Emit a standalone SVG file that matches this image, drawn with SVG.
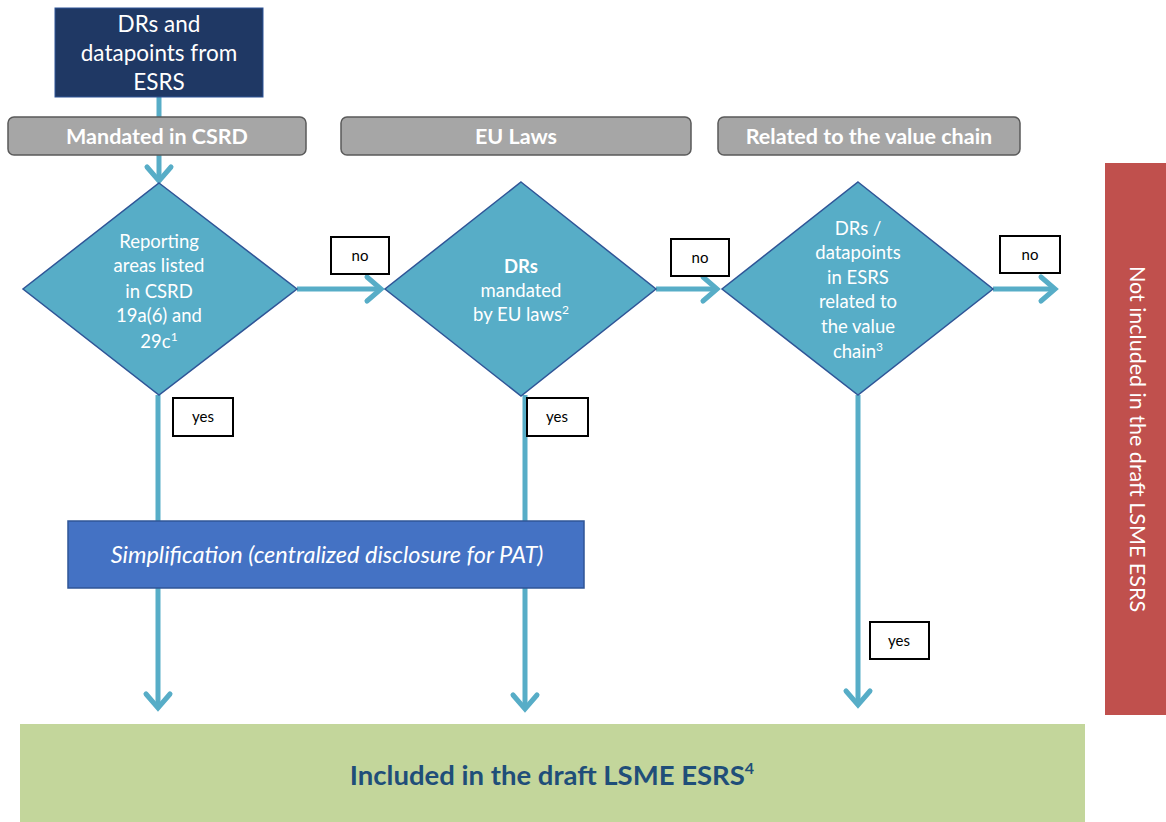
<svg xmlns="http://www.w3.org/2000/svg" width="1166" height="822" viewBox="0 0 1166 822">
<defs>
<style>
.t{font-family:Lato,"Liberation Sans",sans-serif;fill:#fff;text-anchor:middle}
.hdr{fill:#a6a6a6;stroke:#5a5a5a;stroke-width:1.5}
.hdrt{font-family:Lato,"Liberation Sans",sans-serif;font-weight:bold;font-size:21.5px;fill:#fff;text-anchor:middle}
.dia{fill:#57adc7;stroke:#2f5597;stroke-width:1.5}
.dt{font-family:Lato,"Liberation Sans",sans-serif;font-size:18.5px;fill:#fff;text-anchor:middle}
.lbl{fill:#fff;stroke:#000;stroke-width:2}
.lt{font-family:Lato,"Liberation Sans",sans-serif;font-size:15px;fill:#000;text-anchor:middle}
.c{stroke:#57adc7;stroke-width:5;fill:none}
</style>
<marker id="ah" markerUnits="userSpaceOnUse" markerWidth="40" markerHeight="40" viewBox="-20 -20 40 40" refX="0" refY="0" orient="auto">
<path d="M-14,-12 L0,0 L-14,12" fill="none" stroke="#57adc7" stroke-width="5" stroke-linecap="round" stroke-linejoin="miter"/>
</marker>
</defs>
<rect width="1166" height="822" fill="#fff"/>

<g id="connectors">
<line class="c" x1="159" y1="97" x2="159" y2="181" marker-end="url(#ah)"/>
<line class="c" x1="297" y1="289" x2="381" y2="289" marker-end="url(#ah)"/>
<line class="c" x1="656" y1="289" x2="717" y2="289" marker-end="url(#ah)"/>
<line class="c" x1="993" y1="289" x2="1055" y2="289" marker-end="url(#ah)"/>
<line class="c" x1="158" y1="395" x2="158" y2="708" marker-end="url(#ah)"/>
<line class="c" x1="525" y1="395" x2="525" y2="709" marker-end="url(#ah)"/>
<line class="c" x1="858" y1="395" x2="858" y2="705" marker-end="url(#ah)"/>
</g>

<g id="source">
<rect x="55" y="8" width="208" height="89" fill="#1f3864" stroke="#2f5597" stroke-width="1"/>
<text class="t" font-size="22.5" x="159" y="32">DRs and</text>
<text class="t" font-size="22.5" x="159" y="61">datapoints from</text>
<text class="t" font-size="22.5" x="159" y="90">ESRS</text>
</g>

<g id="hdr1">
<rect class="hdr" x="8" y="117" width="298" height="38" rx="6"/>
<text class="hdrt" x="157" y="144">Mandated in CSRD</text>
</g>
<g id="hdr2">
<rect class="hdr" x="341" y="117" width="350" height="38" rx="6"/>
<text class="hdrt" x="516" y="144">EU Laws</text>
</g>
<g id="hdr3">
<rect class="hdr" x="718" y="117" width="302" height="38" rx="6"/>
<text class="hdrt" x="869" y="144">Related to the value chain</text>
</g>

<g id="d1">
<polygon class="dia" points="159,183 297,289 159,395 23,289"/>
<text class="dt" x="159" y="248">Reporting</text>
<text class="dt" x="159" y="272">areas listed</text>
<text class="dt" x="159" y="298">in CSRD</text>
<text class="dt" x="159" y="322">19a(6) and</text>
<text class="dt" x="159" y="348">29c<tspan font-size="12" dy="-7">1</tspan></text>
</g>

<g id="d2">
<polygon class="dia" points="521,182 656,289 521,396 385,289"/>
<text class="dt" x="521" y="273" font-weight="bold">DRs</text>
<text class="dt" x="521" y="297">mandated</text>
<text class="dt" x="521" y="321">by EU laws<tspan font-size="12" dy="-7">2</tspan></text>
</g>

<g id="d3">
<polygon class="dia" points="858,182 993,289 858,395 722,289"/>
<text class="dt" x="858" y="235">DRs /</text>
<text class="dt" x="858" y="259">datapoints</text>
<text class="dt" x="858" y="284">in ESRS</text>
<text class="dt" x="858" y="308">related to</text>
<text class="dt" x="858" y="333">the value</text>
<text class="dt" x="858" y="358">chain<tspan font-size="12" dy="-7">3</tspan></text>
</g>

<g id="no1"><rect class="lbl" x="331" y="237" width="58" height="37"/><text class="lt" x="360" y="261">no</text></g>
<g id="no2"><rect class="lbl" x="671" y="239" width="58" height="37"/><text class="lt" x="700" y="263">no</text></g>
<g id="no3"><rect class="lbl" x="1000" y="236" width="60" height="37"/><text class="lt" x="1030" y="260">no</text></g>
<g id="yes1"><rect class="lbl" x="173" y="398" width="60" height="38"/><text class="lt" x="203" y="422">yes</text></g>
<g id="yes2"><rect class="lbl" x="527" y="398" width="61" height="38"/><text class="lt" x="557" y="422">yes</text></g>
<g id="yes3"><rect class="lbl" x="870" y="622" width="59" height="37"/><text class="lt" x="899" y="646">yes</text></g>

<g id="simplification">
<rect x="68" y="521" width="516" height="67" fill="#4472c4" stroke="#2f5597" stroke-width="1.5"/>
<text class="t" font-size="23.5" font-style="italic" x="327" y="563">Simplification (centralized disclosure for PAT)</text>
</g>

<g id="included">
<rect x="20" y="724" width="1065" height="98" fill="#c3d69b"/>
<text x="552" y="785" font-family="Lato,'Liberation Sans',sans-serif" font-weight="bold" font-size="27.5" fill="#1f4e79" text-anchor="middle">Included in the draft LSME ESRS<tspan font-size="16" dy="-11">4</tspan></text>
</g>

<g id="notincluded">
<rect x="1105" y="163" width="61" height="552" fill="#c0504d"/>
<text class="t" font-size="21.5" transform="translate(1130,439) rotate(90)" x="0" y="0">Not included in the draft LSME ESRS</text>
</g>
</svg>
